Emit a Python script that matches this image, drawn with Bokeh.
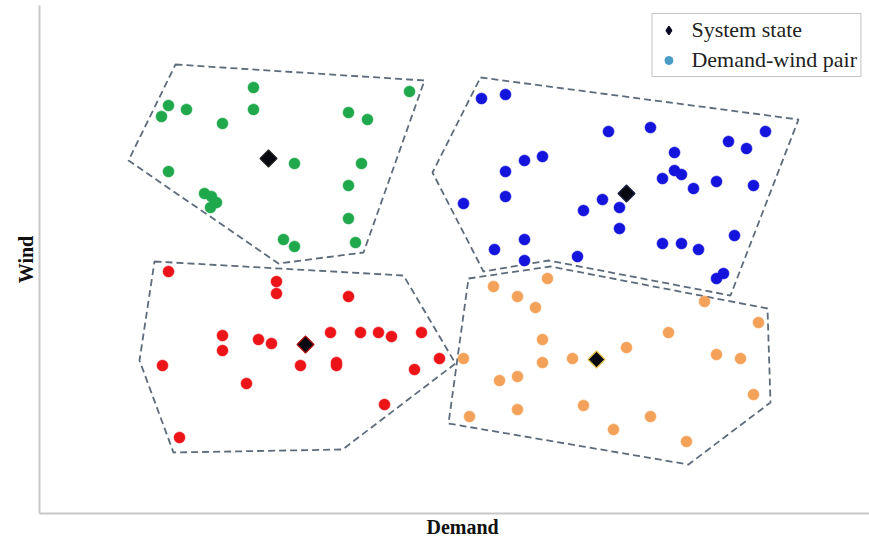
import numpy as np
from bokeh.plotting import figure
from bokeh.models import Range1d, Legend, LegendItem, FixedTicker, Title
from bokeh.embed import file_html
from bokeh.resources import INLINE

# ---- data (arbitrary units) ----
green_demand = [253, 168, 161, 186, 253, 222, 409, 348, 367, 294, 361, 168, 348, 204, 211, 216, 210, 348, 283, 294, 355]
green_wind = [453, 435, 424, 431, 431, 417, 449, 428, 421, 377, 377, 369, 355, 347, 344, 338, 333, 322, 301, 294, 298]

blue_demand = [481, 505, 608, 650, 765, 728, 746, 674, 542, 524, 505, 674, 681, 662, 716, 693, 753, 602, 619, 583,
               505, 463, 619, 734, 524, 662, 681, 698, 494, 524, 577, 716, 723]
blue_wind = [442, 446, 409, 413, 409, 399, 392, 388, 384, 380, 369, 370, 366, 362, 359, 352, 355, 341, 333, 330,
             344, 337, 312, 305, 301, 297, 297, 291, 291, 280, 284, 262, 267]

red_demand = [168, 276, 276, 348, 330, 360, 378, 391, 421, 222, 222, 258, 271, 162, 300, 336, 336, 414, 439, 246, 384, 179]
red_wind = [269, 259, 247, 244, 208, 208, 208, 204, 208, 205, 190, 201, 197, 175, 175, 178, 175, 171, 182, 157, 136, 103]

orange_demand = [493, 547, 517, 535, 704, 758, 668, 542, 626, 463, 542, 572, 716, 740, 499, 517, 753, 583, 517, 650, 469, 613, 686]
orange_wind = [254, 262, 244, 233, 239, 218, 208, 201, 193, 182, 178, 182, 186, 182, 160, 164, 146, 135, 131, 124, 124, 111, 99]

# system states (one per cluster: green, blue, red, orange)
state_demand = [268, 626, 305, 596]
state_wind = [382, 347, 196, 181]

# cluster boundaries
green_hull_demand = [175, 424, 363, 278, 128]
green_hull_wind = [476, 460, 288, 277, 380]
blue_hull_demand = [480, 798, 730, 548, 483, 432]
blue_hull_wind = [463, 421, 245, 280, 269, 368]
red_hull_demand = [154, 403, 455, 342, 173, 139]
red_hull_wind = [279, 265, 177, 91, 88, 180]
orange_hull_demand = [468, 550, 767, 770, 688, 448]
orange_hull_wind = [262, 274, 232, 138, 76, 117]

cluster_colors = ["#1fa84c", "#1414dc", "#ec1418", "#f4a259"]
state_outline = ["#222222", "#1a2040", "#b01010", "#e8c04a"]

p = figure(width=869, height=540, output_backend="svg", toolbar_location=None,
           x_range=Range1d(39, 869), y_range=Range1d(27, 535),
           min_border_left=39, min_border_right=0, min_border_top=5, min_border_bottom=27)
p.outline_line_color = None
p.grid.visible = False
p.background_fill_color = "white"
p.border_fill_color = "white"
for ax in (p.xaxis, p.yaxis):
    ax.ticker = FixedTicker(ticks=[])
    ax.axis_line_color = "#c8c8c8"
    ax.axis_line_width = 2
    ax.major_tick_line_color = None
    ax.minor_tick_line_color = None
    ax.major_tick_out = 0
    ax.major_label_text_font_size = "0px"
    ax.major_label_standoff = 0
    ax.axis_label_standoff = 3
    ax.axis_label_text_font = "Liberation Serif"
    ax.axis_label_text_font_style = "bold"
    ax.axis_label_text_font_size = "20px"
    ax.axis_label_text_color = "#111111"
p.yaxis.axis_label = "Wind"

p.add_layout(Title(text="Demand", align="left", offset=387, standoff=0,
                   text_font="Liberation Serif", text_font_style="bold", text_font_size="20px",
                   text_color="#111111"), "below")

p.patches([green_hull_demand, blue_hull_demand, red_hull_demand, orange_hull_demand],
          [green_hull_wind, blue_hull_wind, red_hull_wind, orange_hull_wind],
          fill_color=None, line_color="#5e6b7b", line_width=1.8, line_dash="7 4")

for xs, ys, c in zip([green_demand, blue_demand, red_demand, orange_demand],
                     [green_wind, blue_wind, red_wind, orange_wind], cluster_colors):
    p.scatter(xs, ys, marker="circle", size=11, fill_color=c, line_color=c, line_alpha=0.6)

p.scatter(state_demand, state_wind, marker="square", angle=np.pi / 4, size=12,
          fill_color="#080810", line_color=state_outline, line_width=1.2)

# legend proxies (one point each, placed outside the visible range)
r_state = p.scatter([0], [0], marker="diamond", size=14, fill_color="#080820", line_color="#080820", line_width=1.5)
r_pair = p.scatter([0], [0], marker="circle", size=6, fill_color="#4a9cc6", line_color="#4a9cc6")
legend = Legend(items=[LegendItem(label="System state", renderers=[r_state]),
                       LegendItem(label="Demand-wind pair", renderers=[r_pair])],
                location="top_right", margin=8, padding=3, spacing=4,
                glyph_width=26, glyph_height=20, label_height=25, label_standoff=10,
                label_text_font="Liberation Serif", label_text_font_size="22px",
                label_text_color="#222222", border_line_color="#8a8a8a", border_line_width=1.5,
                background_fill_color="white", background_fill_alpha=1)
p.add_layout(legend)

open("out.html", "w").write(file_html(p, INLINE))
